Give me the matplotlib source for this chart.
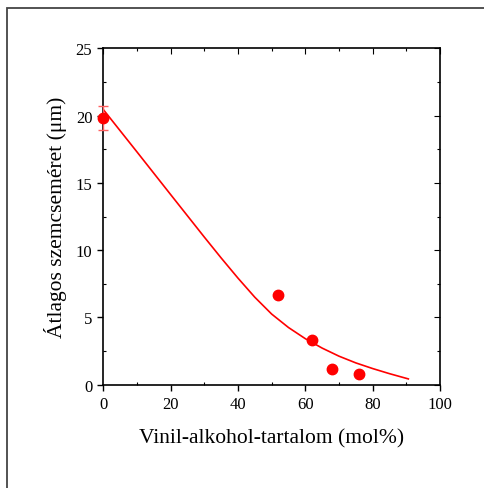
import matplotlib
matplotlib.use("Agg")
import matplotlib.pyplot as plt
from matplotlib.ticker import MultipleLocator
from matplotlib.patches import Rectangle

plt.rcParams['font.family'] = ['Liberation Serif', 'DejaVu Serif']

# Data
va_content = [0, 52, 62, 68, 76]
particle_size = [19.8, 6.64, 3.34, 1.16, 0.77]
size_err = [0.9, 0, 0, 0, 0]

fit_x = [0, 10, 20, 30, 35, 40, 45, 50, 55, 60, 65, 70, 75, 80, 85, 90.6]
fit_y = [20.45, 17.3, 14.13, 10.97, 9.42, 7.92, 6.5, 5.25, 4.25, 3.42, 2.72, 2.12, 1.62, 1.2, 0.82, 0.43]

x_ticks = [0, 20, 40, 60, 80, 100]
y_ticks = [0, 5, 10, 15, 20, 25]

fig = plt.figure(figsize=(4.85, 4.89), dpi=100)
fig.patches.append(Rectangle((7 / 485, -0.1), 1.2, (1 - 9 / 489) + 0.1,
                             transform=fig.transFigure, fill=False,
                             edgecolor='#444444', linewidth=1.3))
ax = fig.add_axes([103.3 / 485, 1 - 385.7 / 489, (440 - 103.3) / 485, (385.7 - 49.3) / 489])

ax.plot(fit_x, fit_y, color='#ff0000', linewidth=1.2, zorder=2)
ax.errorbar([va_content[0]], [particle_size[0]], yerr=[size_err[0]], fmt='none',
            ecolor='#ff6060', elinewidth=1.0, capsize=3.5, capthick=1.0, zorder=3, clip_on=False)
ax.plot(va_content, particle_size, 'o', color='#ff0000', markersize=7.5, zorder=4, clip_on=False)

ax.set_xlim(0, 100)
ax.set_ylim(0, 25)
ax.set_xticks(x_ticks)
ax.set_yticks(y_ticks)
ax.xaxis.set_minor_locator(MultipleLocator(10))
ax.yaxis.set_minor_locator(MultipleLocator(2.5))

ax.tick_params(axis='both', which='major', direction='out', length=4.3, width=1.0,
               labelsize=12, pad=3.6, top=False, right=False)
ax.tick_params(axis='both', which='minor', direction='in', length=2.5, width=0.8,
               top=True, right=True)
ax2 = ax.secondary_xaxis('top')
ax2.set_xticks(x_ticks)
ax2.tick_params(direction='in', length=4, labeltop=False)
ax3 = ax.secondary_yaxis('right')
ax3.set_yticks(y_ticks)
ax3.tick_params(direction='in', length=4, labelright=False)
for a in (ax2, ax3):
    for s in a.spines.values():
        s.set_visible(False)

for s in ax.spines.values():
    s.set_linewidth(1.2)

ax.set_xlabel('Vinil-alkohol-tartalom (mol%)', fontsize=15.5, labelpad=12)
ax.set_ylabel('Átlagos szemcseméret (μm)', fontsize=15.5, labelpad=6)

fig.savefig('out.png', dpi=100)
